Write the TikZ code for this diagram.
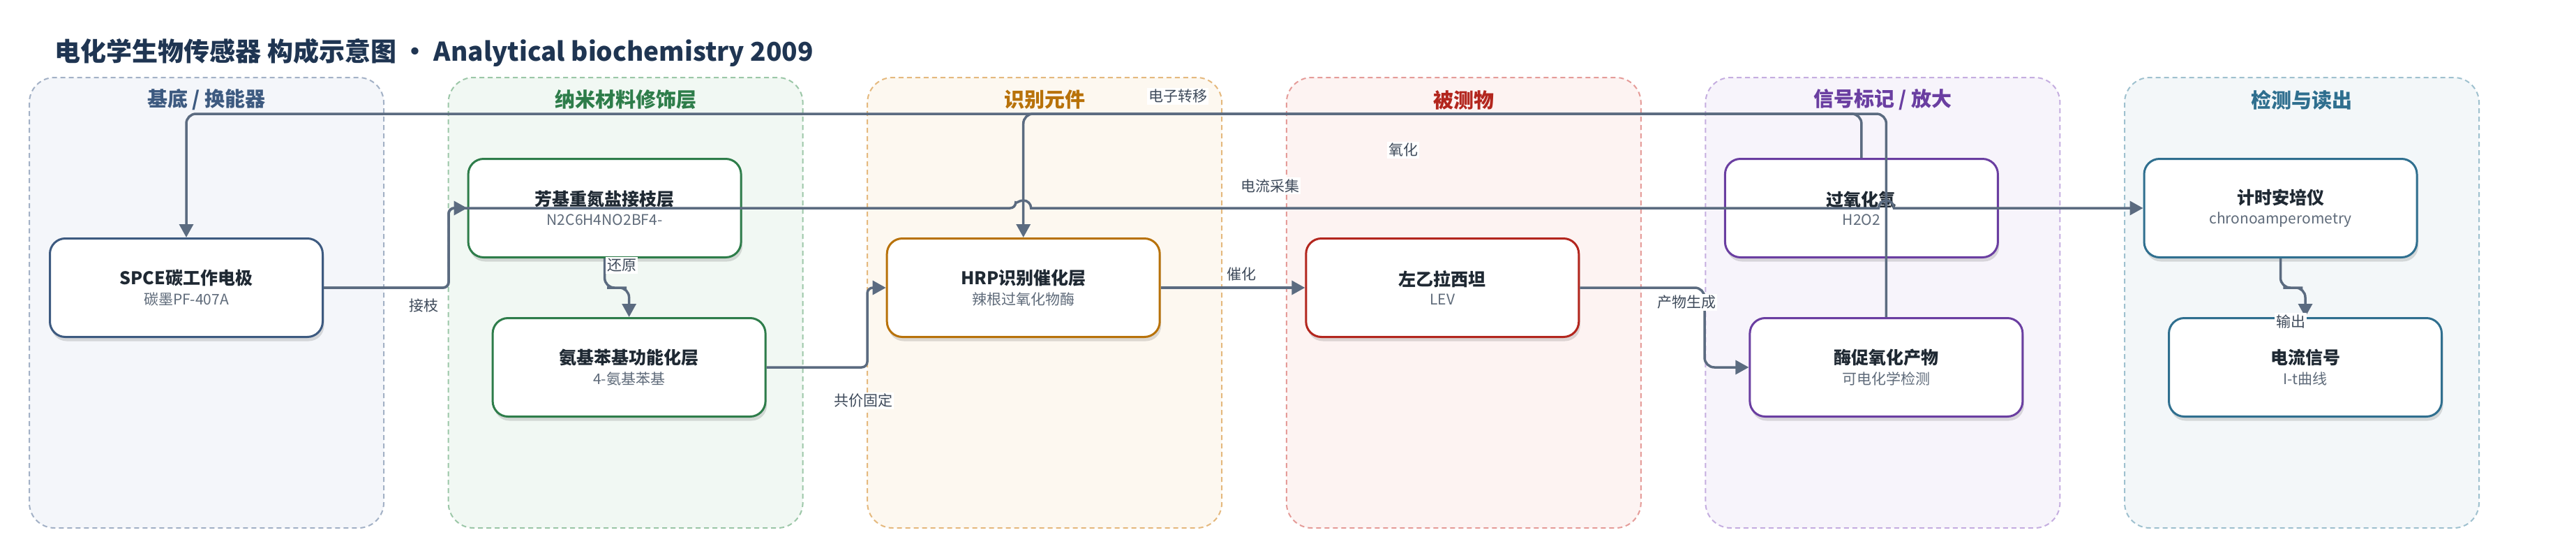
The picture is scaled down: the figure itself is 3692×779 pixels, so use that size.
\documentclass[tikz,border=0pt]{standalone}
\usepackage{fontspec}
\setmainfont{Noto Sans CJK SC}
\usetikzlibrary{shadows,calc,arrows.meta}
\definecolor{edgec}{HTML}{5B6B80}
\definecolor{titlec}{HTML}{1F3552}
\definecolor{nodetxt}{HTML}{1F2933}
\definecolor{subtxt}{HTML}{5F6B7A}
\definecolor{lbltxt}{HTML}{3E4A5A}
\definecolor{gAf}{HTML}{F4F6FA}\definecolor{gAd}{HTML}{A3B1C6}\definecolor{gAt}{HTML}{3D5A80}
\definecolor{gBf}{HTML}{F1F8F3}\definecolor{gBd}{HTML}{9CC7A8}\definecolor{gBt}{HTML}{2E7D4A}
\definecolor{gCf}{HTML}{FDF8F0}\definecolor{gCd}{HTML}{E5B97E}\definecolor{gCt}{HTML}{B8720A}
\definecolor{gDf}{HTML}{FDF3F2}\definecolor{gDd}{HTML}{E59C99}\definecolor{gDt}{HTML}{B3261E}
\definecolor{gEf}{HTML}{F7F4FB}\definecolor{gEd}{HTML}{C5AEE0}\definecolor{gEt}{HTML}{6A3EA1}
\definecolor{gFf}{HTML}{F3F7F9}\definecolor{gFd}{HTML}{9FC1CF}\definecolor{gFt}{HTML}{2F6F8F}
\newcommand\nt[2]{{\fontsize{25}{30}\selectfont\bfseries\color{nodetxt}#1}\\[8pt]{\fontsize{21}{25}\selectfont\color{subtxt}#2}}
\begin{document}
\begin{tikzpicture}[x=1pt,y=-1pt,
  grp/.style={rounded corners=36pt, line width=2pt, dash pattern=on 7pt off 5pt},
  gt/.style={font=\fontsize{29}{34}\selectfont\bfseries},
  box/.style={line width=3pt, rounded corners=22pt, fill=white, minimum width=391pt, minimum height=141pt, align=center, inner sep=0pt,
    drop shadow={shadow xshift=2pt, shadow yshift=-6pt, opacity=0.13, fill=black}},
  conn/.style={draw=edgec, line width=3.5pt, rounded corners=14pt, -{Triangle[length=19pt,width=20pt]}},
  lbl/.style={fill=white, text=lbltxt, font=\fontsize{21}{24}\selectfont, inner sep=2pt}]
\useasboundingbox (0,0) rectangle (3692,779);
\fill[white] (0,0) rectangle (3692,779);
% title
\node[anchor=west, font=\fontsize{37}{44}\selectfont\bfseries, text=titlec] (title) at (75,75) {电化学生物传感器 构成示意图 · Analytical biochemistry 2009};
% groups
\path[grp, fill=gAf, draw=gAd] (42,111) rectangle (550,756);
\path[grp, fill=gBf, draw=gBd] (642.6,111) rectangle (1150.6,756);
\path[grp, fill=gCf, draw=gCd] (1243.2,111) rectangle (1751.2,756);
\path[grp, fill=gDf, draw=gDd] (1843.8,111) rectangle (2351.8,756);
\path[grp, fill=gEf, draw=gEd] (2444.4,111) rectangle (2952.4,756);
\path[grp, fill=gFf, draw=gFd] (3045,111) rectangle (3553,756);
\node[gt, text=gAt] (gt1) at (296,143) {基底 / 换能器};
\node[gt, text=gBt] (gt2) at (896.6,143) {纳米材料修饰层};
\node[gt, text=gCt] (gt3) at (1497.2,143) {识别元件};
\node[gt, text=gDt] (gt4) at (2097.8,143) {被测物};
\node[gt, text=gEt] (gt5) at (2698.4,143) {信号标记 / 放大};
\node[gt, text=gFt] (gt6) at (3299,143) {检测与读出};
% nodes
\node[box, draw=gAt] (spce) at (267,412) {\nt{SPCE碳工作电极}{碳墨PF-407A}};
\node[box, draw=gBt] (fangji) at (866.6,298) {\nt{芳基重氮盐接枝层}{N2C6H4NO2BF4-}};
\node[box, draw=gBt] (anji) at (901.6,526) {\nt{氨基苯基功能化层}{4-氨基苯基}};
\node[box, draw=gCt] (hrp) at (1466.7,412) {\nt{HRP识别催化层}{辣根过氧化物酶}};
\node[box, draw=gDt] (lev) at (2067.3,412) {\nt{左乙拉西坦}{LEV}};
\node[box, draw=gEt] (h2o2) at (2667.9,298) {\nt{过氧化氢}{H2O2}};
\node[box, draw=gEt] (meicu) at (2703.4,526) {\nt{酶促氧化产物}{可电化学检测}};
\node[box, draw=gFt] (jishi) at (3268.5,298) {\nt{计时安培仪}{chronoamperometry}};
\node[box, draw=gFt] (dianliu) at (3304,526) {\nt{电流信号}{I-t曲线}};
% helper coordinates
\coordinate (j1) at (643,412);
\coordinate (j3) at (1243,526);
\coordinate (j4) at (2443,412);
\coordinate (top) at (0,163);
% connectors
\draw[conn, rounded corners=8pt] (spce.east) -- (j1) |- (fangji.west);
\draw[conn, rounded corners=8pt] (spce.east) -- (j1) |- ($(hrp.north |- fangji.west)+(-11,0)$)
  [sharp corners] arc[start angle=180, end angle=360, radius=11]
  -- ($(meicu.north |- fangji.west)+(-11,0)$)
  arc[start angle=180, end angle=360, radius=11] -- (jishi.west);
\draw[conn] (fangji.south) |- ($(fangji.south)!0.5!(anji.north)$) -| (anji.north);
\draw[conn, rounded corners=8pt] (anji.east) -- (j3) |- (hrp.west);
\draw[conn] (hrp.east) -- (lev.west);
\draw[conn] (lev.east) -- (j4) |- (meicu.west);
\draw[conn] (h2o2.north) -- (h2o2.north |- top) -| (hrp.north);
\draw[conn] (meicu.north) -- (meicu.north |- top) -| (spce.north);
\draw[conn] (jishi.south) |- ($(jishi.south)!0.5!(dianliu.north)$) -| (dianliu.north);
% labels
\node[lbl] (l1) at (607,438) {接枝};
\node[lbl] (l2) at (891,380) {还原};
\node[lbl] (l3) at (1237,574) {共价固定};
\node[lbl] (l4) at (1779,393) {催化};
\node[lbl] (l5) at (2417,433) {产物生成};
\node[lbl] (l6) at (1688,138) {电子转移};
\node[lbl] (l7) at (2011,215) {氧化};
\node[lbl] (l8) at (1820,266) {电流采集};
\node[lbl] (l9) at (3283,460) {输出};
\end{tikzpicture}
\end{document}
